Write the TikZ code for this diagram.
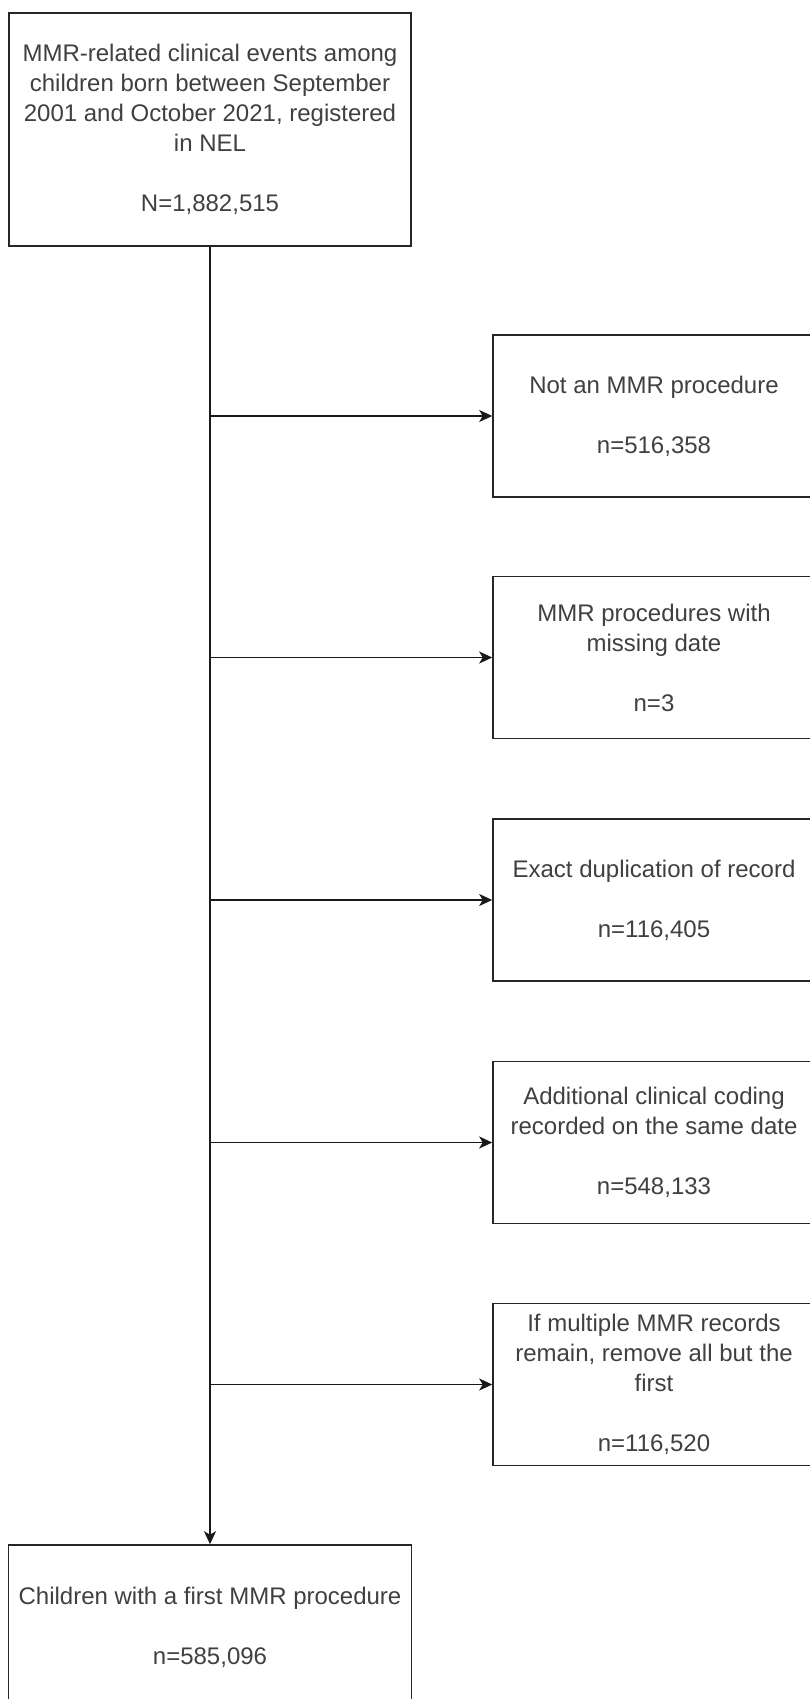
\documentclass[tikz,border=0pt]{standalone}
\usepackage{fontspec}
\setmainfont{Liberation Sans}
\usetikzlibrary{arrows.meta}
\begin{document}
\begin{tikzpicture}[x=1pt,y=-1pt,
  box/.style={draw=black!85, line width=1.6pt, fill=white, align=center, text=black!75,
    font=\fontsize{24}{30}\selectfont, inner sep=0pt},
  sidebox/.style={box, minimum width=322pt, minimum height=162pt},
  arr/.style={draw=black!90, line width=1.6pt, -{Stealth[length=13pt,width=12pt,inset=3.5pt]}}]
\useasboundingbox (0,0) rectangle (809,1699);
\node[box, minimum width=402pt, minimum height=233pt] (top) at (210,129.5)
  {MMR-related clinical events among\\children born between September\\2001 and October 2021, registered\\in NEL\\[30pt]N=1,882,515};
\node[sidebox] (r1) at (654,416) {Not an MMR procedure\\[30pt]n=516,358};
\node[sidebox] (r2) at (654,657.5) {MMR procedures with\\missing date\\[30pt]n=3};
\node[sidebox] (r3) at (654,900) {Exact duplication of record\\[30pt]n=116,405};
\node[sidebox] (r4) at (654,1142.5) {Additional clinical coding\\recorded on the same date\\[30pt]n=548,133};
\node[sidebox] (r5) at (654,1384.5) {If multiple MMR records\\remain, remove all but the\\first\\[30pt]n=116,520};
\node[box, minimum width=403pt, minimum height=164pt] (bot) at (210,1627)
  {Children with a first MMR procedure\\[30pt]n=585,096};
\foreach \i in {1,...,5} {
  \coordinate (b\i) at (top.south |- r\i.west);
  \draw[arr] (b\i) -- (r\i.west);
}
\draw[arr] (top.south) -- (bot.north);
\end{tikzpicture}
\end{document}
